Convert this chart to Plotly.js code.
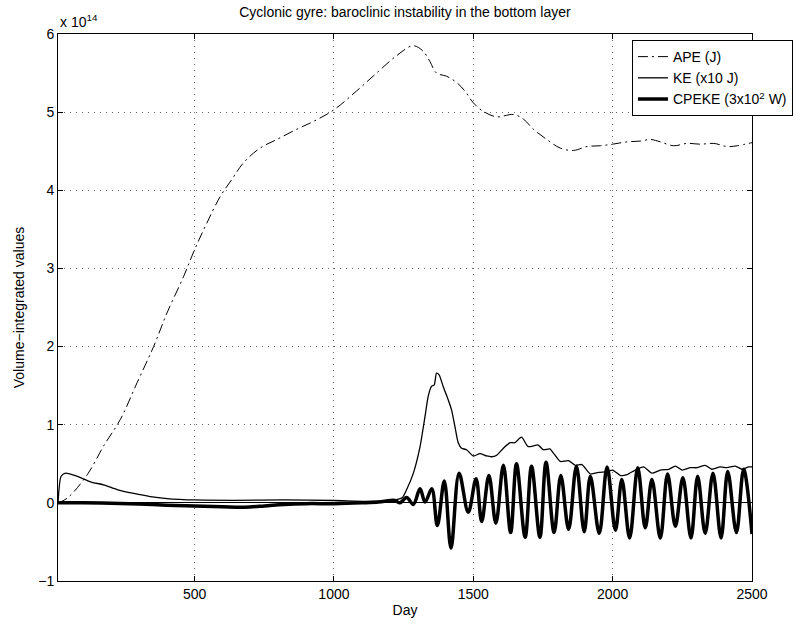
<!DOCTYPE html>
<html>
<head>
<meta charset="utf-8">
<script src="https://cdn.plot.ly/plotly-3.0.1.min.js"></script>
<style>html,body{margin:0;padding:0;background:#fff;}#chart{width:808px;height:626px;}</style>
</head>
<body>
<div id="chart"></div>
<script>
// Values in units of 1e14
const apeDay = [10, 43, 115, 174, 234, 294, 353, 401, 461, 500, 544, 592, 634, 675, 735, 795, 866, 926, 1000, 1081, 1153, 1224, 1284, 1320, 1344, 1368, 1404, 1440, 1470, 1500, 1536, 1584, 1644, 1680, 1716, 1764, 1812, 1860, 1908, 1956, 2000, 2052, 2100, 2136, 2171, 2219, 2267, 2315, 2363, 2411, 2447, 2500];
const apeVal = [0, 0.06, 0.36, 0.73, 1.07, 1.54, 2.0, 2.43, 2.9, 3.24, 3.58, 3.92, 4.14, 4.35, 4.54, 4.65, 4.78, 4.88, 5.03, 5.27, 5.50, 5.72, 5.85, 5.78, 5.65, 5.50, 5.46, 5.38, 5.27, 5.12, 5.01, 4.94, 4.97, 4.91, 4.78, 4.65, 4.54, 4.51, 4.56, 4.57, 4.59, 4.62, 4.63, 4.65, 4.62, 4.57, 4.60, 4.59, 4.60, 4.56, 4.57, 4.61];

const keDay = [10, 21, 37, 79, 126, 174, 222, 282, 341, 401, 500, 640, 819, 1000, 1117, 1188, 1224, 1246, 1261, 1285, 1309, 1327, 1338, 1350, 1360, 1368, 1377, 1392, 1410, 1422, 1434, 1446, 1458, 1476, 1500, 1524, 1548, 1566, 1584, 1608, 1632, 1649, 1673, 1697, 1733, 1751, 1775, 1787, 1812, 1842, 1866, 1890, 1920, 1950, 1980, 2000, 2028, 2051, 2081, 2111, 2141, 2171, 2201, 2225, 2249, 2279, 2303, 2332, 2356, 2386, 2410, 2440, 2464, 2488, 2500];
const keVal = [0, 0.34, 0.38, 0.34, 0.27, 0.23, 0.17, 0.12, 0.08, 0.055, 0.037, 0.033, 0.037, 0.03, 0.02, 0.025, 0.04, 0.07, 0.17, 0.38, 0.72, 1.11, 1.36, 1.49, 1.51, 1.66, 1.64, 1.49, 1.32, 1.19, 0.98, 0.77, 0.70, 0.68, 0.60, 0.63, 0.60, 0.59, 0.61, 0.70, 0.77, 0.77, 0.84, 0.72, 0.74, 0.68, 0.69, 0.64, 0.53, 0.54, 0.48, 0.49, 0.37, 0.39, 0.40, 0.42, 0.35, 0.36, 0.42, 0.46, 0.38, 0.42, 0.43, 0.47, 0.42, 0.45, 0.45, 0.48, 0.43, 0.46, 0.45, 0.47, 0.43, 0.46, 0.46];

const cpDay = [10, 100, 200, 300, 400, 500, 600, 680, 750, 820, 900, 1000, 1100, 1160, 1201, 1219, 1237, 1261, 1285, 1309, 1327, 1351, 1371, 1396, 1420, 1449, 1482, 1510, 1530, 1556, 1581, 1608, 1634, 1655, 1686, 1709, 1739, 1761, 1790, 1814, 1842, 1870, 1898, 1920, 1952, 1980, 2010, 2033, 2061, 2090, 2117, 2141, 2171, 2197, 2225, 2252, 2281, 2305, 2332, 2360, 2389, 2413, 2444, 2470, 2500];
const cpVal = [0, 0, -0.005, -0.015, -0.03, -0.04, -0.05, -0.055, -0.04, -0.02, -0.01, -0.01, 0, 0.01, 0.03, 0.03, 0, 0.07, -0.02, 0.18, 0.01, 0.18, -0.29, 0.28, -0.58, 0.38, -0.12, 0.31, -0.24, 0.35, -0.26, 0.48, -0.38, 0.50, -0.44, 0.47, -0.44, 0.52, -0.38, 0.35, -0.34, 0.47, -0.37, 0.34, -0.39, 0.46, -0.35, 0.30, -0.45, 0.45, -0.32, 0.30, -0.45, 0.37, -0.30, 0.32, -0.45, 0.34, -0.39, 0.38, -0.45, 0.40, -0.38, 0.43, -0.40];

const xTicks = [500, 1000, 1500, 2000, 2500];
const yTicks = [-1, 0, 1, 2, 3, 4, 5, 6];

const font = {family: 'Liberation Sans, Arial, sans-serif', size: 14, color: '#000'};

const traces = [
  {x: apeDay, y: apeVal, name: 'APE (J)', mode: 'lines', line: {color: '#000', width: 1, dash: '10px,4px,2px,4px', shape: 'spline'}},
  {x: keDay, y: keVal, name: 'KE (x10 J)', mode: 'lines', line: {color: '#000', width: 1.3, shape: 'spline', smoothing: 0.6}},
  {x: cpDay, y: cpVal, name: 'CPEKE (3x10<sup>2</sup> W)', mode: 'lines', line: {color: '#000', width: 3.5, shape: 'spline'}}
];

const axisCommon = {
  showline: true, linecolor: '#000', linewidth: 1, mirror: 'ticks',
  ticks: 'inside', ticklen: 5, tickcolor: '#000', tickwidth: 1,
  showgrid: true, gridcolor: '#666', griddash: '1px,5px', gridwidth: 1,
  tickfont: font
};

const layout = {
  width: 808, height: 626,
  margin: {l: 58, r: 56, t: 34, b: 45},
  paper_bgcolor: '#fff', plot_bgcolor: '#fff',
  font: font,
  title: {text: 'Cyclonic gyre: baroclinic instability in the bottom layer', font: {family: font.family, size: 14, color: '#000'}, x: 0.5012, xanchor: 'center', y: 0.981, yanchor: 'middle'},
  xaxis: Object.assign({}, axisCommon, {
    range: [10, 2500], tickvals: xTicks, ticktext: xTicks.map(String), zeroline: false,
    title: {text: 'Day', font: font, standoff: 4}
  }),
  yaxis: Object.assign({}, axisCommon, {
    range: [-1, 6], tickvals: yTicks, zeroline: true, zerolinecolor: '#000', zerolinewidth: 1,
    title: {text: 'Volume\u2212integrated values', font: font, standoff: 10}
  }),
  showlegend: true,
  legend: {x: 0.827, y: 0.989, xanchor: 'left', yanchor: 'top', bgcolor: '#fff', bordercolor: '#000', borderwidth: 1, font: font, itemwidth: 30, tracegroupgap: 0},
  annotations: [{xref: 'paper', yref: 'paper', x: 0, y: 1, xanchor: 'left', yanchor: 'bottom', yshift: 2, text: 'x 10<sup>14</sup>', showarrow: false, font: font}]
};

Plotly.newPlot('chart', traces, layout, {displayModeBar: false, staticPlot: true});
</script>
</body>
</html>
